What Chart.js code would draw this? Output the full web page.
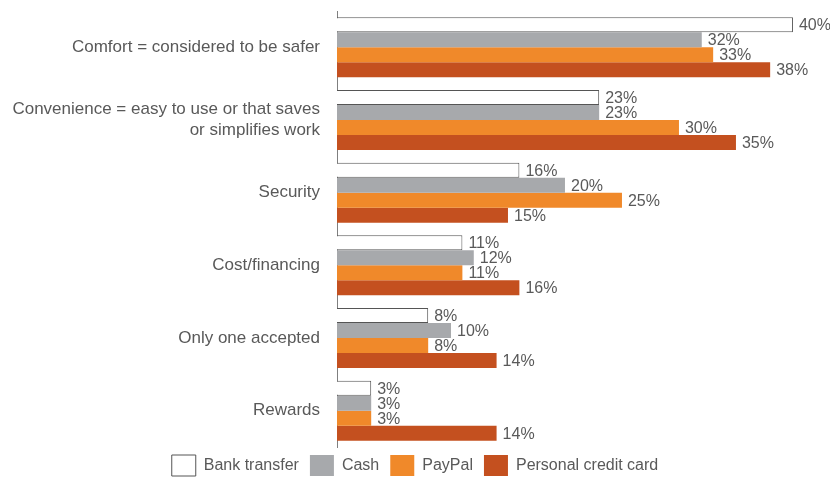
<!DOCTYPE html>
<html>
<head>
<meta charset="utf-8">
<script src="https://cdn.jsdelivr.net/npm/chart.js@4.4.0/dist/chart.umd.min.js"></script>
<style>
  html, body { margin: 0; padding: 0; background: #fff; }
  #wrap { width: 830px; height: 479px; position: relative; }
</style>
</head>
<body>
<div id="wrap"><canvas id="reasons-chart"></canvas></div>
<script>
var categories = [
  ['Comfort = considered to be safer'],
  ['Convenience = easy to use or that saves', 'or simplifies work'],
  ['Security'],
  ['Cost/financing'],
  ['Only one accepted'],
  ['Rewards']
];
var bankTransfer = [40, 23, 16, 11, 8, 3];
var cash = [32, 23, 20, 12, 10, 3];
var payPal = [33, 30, 25, 11, 8, 3];
var creditCard = [38, 35, 15, 16, 14, 14];

var textColor = '#595959';
var fontFamily = '"Liberation Sans", Arial, sans-serif';

// percentage text just past the end of each bar
var barLabels = {
  id: 'barLabels',
  afterLayout: function(chart) {
    // pull the legend row up a little closer to the bars
    chart.legend.top -= 3;
    chart.legend.bottom -= 3;
  },
  afterDatasetsDraw: function(chart) {
    var ctx = chart.ctx;
    ctx.save();
    ctx.font = '16px ' + fontFamily;
    ctx.fillStyle = textColor;
    ctx.textAlign = 'left';
    ctx.textBaseline = 'middle';
    chart.data.datasets.forEach(function(ds, i) {
      chart.getDatasetMeta(i).data.forEach(function(bar, j) {
        ctx.fillText(ds.data[j] + '%', bar.x + 6, bar.y + 1);
      });
    });
    ctx.restore();
  }
};

function series(label, data, fill, border, width) {
  return {
    label: label,
    data: data,
    backgroundColor: fill,
    borderColor: border,
    borderWidth: width,
    categoryPercentage: 0.825,
    barPercentage: 1
  };
}

var ctx = document.getElementById('reasons-chart');
new Chart(ctx, {
  type: 'bar',
  data: {
    labels: categories,
    datasets: [
      series('Bank transfer', bankTransfer, '#ffffff', '#555555', 1),
      series('Cash', cash, '#a7a9ac', '#a7a9ac', 0),
      series('PayPal', payPal, '#f0892a', '#f0892a', 0),
      series('Personal credit card', creditCard, '#c4501f', '#c4501f', 0)
    ]
  },
  options: {
    indexAxis: 'y',
    responsive: true,
    maintainAspectRatio: false,
    animation: false,
    layout: { padding: { top: 11, right: 0, left: 0, bottom: -10 } },
    scales: {
      x: {
        min: 0,
        max: 43.25,
        display: false
      },
      y: {
        afterFit: function(scale) {
          scale.width = 337;
          scale.paddingTop = 0;
          scale.paddingBottom = 0;
        },
        grid: { display: false, drawTicks: false },
        border: { display: true, color: '#7f7f7f', width: 1 },
        ticks: {
          color: textColor,
          padding: 17,
          font: { family: fontFamily, size: 17, lineHeight: 1.2 }
        }
      }
    },
    plugins: {
      tooltip: { enabled: false },
      legend: {
        position: 'bottom',
        labels: {
          boxWidth: 24,
          boxHeight: 21,
          padding: 11,
          color: textColor,
          font: { family: fontFamily, size: 16 }
        }
      }
    }
  },
  plugins: [barLabels]
});
</script>
</body>
</html>
